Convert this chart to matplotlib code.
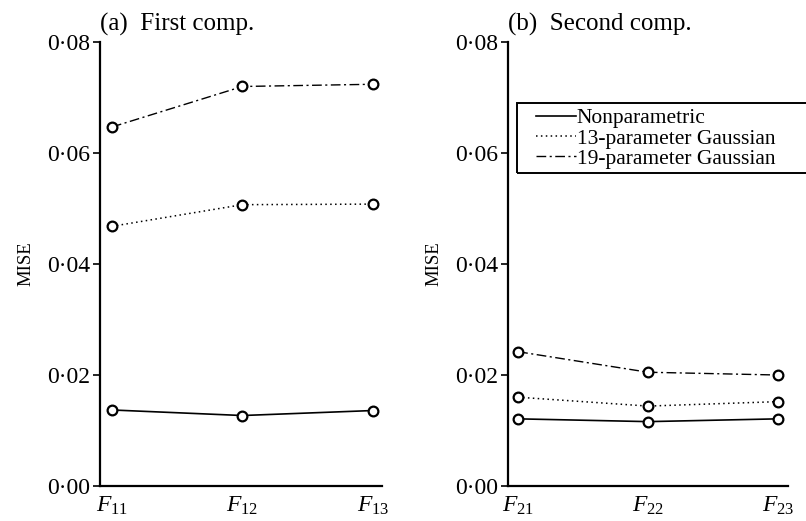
import matplotlib
matplotlib.use("Agg")
import matplotlib.pyplot as plt
from matplotlib.ticker import FuncFormatter
from matplotlib.lines import Line2D
from matplotlib.patches import Rectangle

plt.rcParams['font.family'] = ['Liberation Serif', 'DejaVu Serif']
plt.rcParams['mathtext.fontset'] = 'custom'
plt.rcParams['mathtext.rm'] = 'Liberation Serif'
plt.rcParams['mathtext.it'] = 'Liberation Serif:italic'

# MISE values
labels_a = [r'$F_{11}$', r'$F_{12}$', r'$F_{13}$']
labels_b = [r'$F_{21}$', r'$F_{22}$', r'$F_{23}$']
nonpar_a = [0.0137, 0.0127, 0.0136]
gauss13_a = [0.0468, 0.0507, 0.0508]
gauss19_a = [0.0647, 0.0720, 0.0724]
nonpar_b = [0.0121, 0.0116, 0.0121]
gauss13_b = [0.0160, 0.0144, 0.0152]
gauss19_b = [0.0242, 0.0205, 0.0200]

names = ['Nonparametric', '13-parameter Gaussian', '19-parameter Gaussian']
styles = ['-', (0, (1, 2.2)), (0, (7, 2.5, 1.5, 2.5))]
widths = [1.2, 1.1, 1.0]

fig = plt.figure(figsize=(8.06, 5.21), dpi=100)
ax_a = fig.add_axes([0.124, 0.0672, 0.350, 0.852])
ax_b = fig.add_axes([0.630, 0.0672, 0.348, 0.852])

def fmt(v, pos):
    return f"{v:.2f}".replace('.', '·')

panels = [
    (ax_a, labels_a, [nonpar_a, gauss13_a, gauss19_a], '(a)  First comp.', (0.908, 3.07)),
    (ax_b, labels_b, [nonpar_b, gauss13_b, gauss19_b], '(b)  Second comp.', (0.92, 3.08)),
]

for ax, labs, series, title, xl in panels:
    x = [1, 2, 3]
    for vals, ls, lw in zip(series, styles, widths):
        ax.plot(x, vals, linestyle=ls, color='black', lw=lw,
                marker='o', ms=7, mfc='white', mec='black', mew=1.6, clip_on=False)
    ax.set_xlim(*xl)
    ax.set_ylim(0, 0.08)
    ax.set_yticks([0, 0.02, 0.04, 0.06, 0.08])
    ax.yaxis.set_major_formatter(FuncFormatter(fmt))
    ax.set_xticks(x)
    ax.set_xticklabels(labs)
    ax.spines['top'].set_visible(False)
    ax.spines['right'].set_visible(False)
    ax.spines['left'].set_linewidth(1.6)
    ax.spines['bottom'].set_linewidth(1.6)
    ax.tick_params(axis='y', length=5, width=1.2, labelsize=17, pad=2)
    ax.tick_params(axis='x', length=0, labelsize=17, pad=6)
    ax.set_ylabel('MISE', fontsize=13.5, labelpad=9)
    ax.set_title(title, loc='left', fontsize=18, pad=8)

# legend frame runs past the right edge of the figure, as in the original
fig.patches.append(Rectangle((0.641, 0.668), 0.4, 0.135, transform=fig.transFigure,
                             fill=False, edgecolor='black', lw=1.4))
handles = [Line2D([], [], color='black', linestyle=ls, lw=lw) for ls, lw in zip(styles, widths)]
leg = fig.legend(handles, names, loc='upper left', bbox_to_anchor=(0.665, 0.792),
                 fontsize=15.5, frameon=False, borderpad=0, labelspacing=0,
                 handlelength=1.85, handletextpad=0.04, borderaxespad=0)

fig.savefig('out.png', dpi=100)
